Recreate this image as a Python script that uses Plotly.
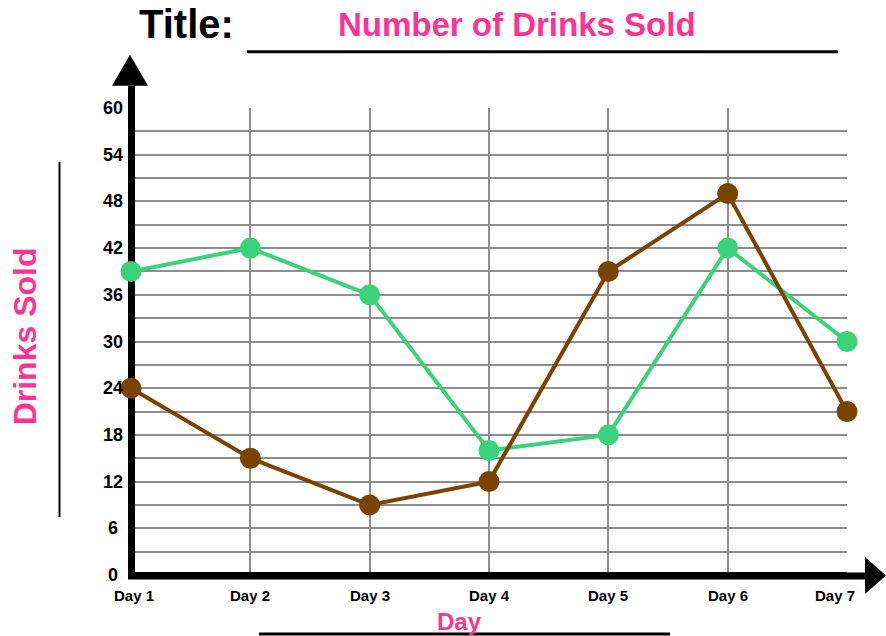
import plotly.graph_objects as go

days = ["Day 1", "Day 2", "Day 3", "Day 4", "Day 5", "Day 6", "Day 7"]
green_vals = [39, 42, 36, 16, 18, 42, 30]
brown_vals = [24, 15, 9, 12, 39, 49, 21]
y_ticks = [0, 6, 12, 18, 24, 30, 36, 42, 48, 54, 60]

W, H = 886, 636
L, R, T, B = 131, 847, 108.3, 575


def px(x):
    return (x - L) / (R - L)


def py(y):
    return (B - y) / (B - T)


FONT = "Liberation Sans, Arial, Helvetica, sans-serif"
PINK = "#ff3392"
GREEN = "#3ad27a"
BROWN = "#7a4300"
GRID = "#8e8e8e"

xs = list(range(len(days)))

fig = go.Figure()
fig.add_trace(go.Scatter(x=xs, y=green_vals, mode="lines+markers",
                         line=dict(color=GREEN, width=4),
                         marker=dict(size=21, color=GREEN),
                         cliponaxis=False, showlegend=False, hoverinfo="skip"))
fig.add_trace(go.Scatter(x=xs, y=brown_vals, mode="lines+markers",
                         line=dict(color=BROWN, width=4),
                         marker=dict(size=21, color=BROWN),
                         cliponaxis=False, showlegend=False, hoverinfo="skip"))

shapes = []
# axis extensions (outside plot area)
shapes.append(dict(type="line", xref="paper", yref="paper",
                   x0=px(131.5), x1=px(131.5), y0=py(579), y1=py(86),
                   line=dict(color="black", width=7), layer="between"))
shapes.append(dict(type="line", xref="paper", yref="paper",
                   x0=px(128), x1=px(866), y0=py(576), y1=py(576),
                   line=dict(color="black", width=7), layer="between"))
# arrow heads
shapes.append(dict(type="path", xref="paper", yref="paper",
                   path=f"M {px(112)},{py(86)} L {px(148)},{py(86)} L {px(130)},{py(55)} Z",
                   fillcolor="black", line=dict(color="black", width=0)))
shapes.append(dict(type="path", xref="paper", yref="paper",
                   path=f"M {px(865)},{py(557)} L {px(865)},{py(594)} L {px(886)},{py(575.5)} Z",
                   fillcolor="black", line=dict(color="black", width=0)))
# title underline
shapes.append(dict(type="line", xref="paper", yref="paper",
                   x0=px(247), x1=px(838), y0=py(52), y1=py(52),
                   line=dict(color="black", width=3)))
# y title line
shapes.append(dict(type="line", xref="paper", yref="paper",
                   x0=px(59.5), x1=px(59.5), y0=py(162), y1=py(517),
                   line=dict(color="black", width=2)))
# x title line
shapes.append(dict(type="line", xref="paper", yref="paper",
                   x0=px(259), x1=px(670), y0=py(634), y1=py(634),
                   line=dict(color="black", width=3)))

annotations = []
annotations.append(dict(text="Title:", x=px(186.5), y=py(24), xref="paper", yref="paper",
                        showarrow=False, xanchor="center", yanchor="middle",
                        font=dict(family=FONT, size=40, color="black", weight=700)))
annotations.append(dict(text="Number of Drinks Sold", x=px(517), y=py(25), xref="paper", yref="paper",
                        showarrow=False, xanchor="center", yanchor="middle",
                        font=dict(family=FONT, size=33, color=PINK, weight=700)))
annotations.append(dict(text="Drinks Sold", x=px(24.5), y=py(337), xref="paper", yref="paper",
                        showarrow=False, xanchor="center", yanchor="middle", textangle=-90,
                        font=dict(family=FONT, size=32, color=PINK, weight=700)))
annotations.append(dict(text="Day", x=px(459), y=py(621), xref="paper", yref="paper",
                        showarrow=False, xanchor="center", yanchor="middle",
                        font=dict(family=FONT, size=24, color=PINK, weight=700)))
for v in y_ticks:
    annotations.append(dict(text=str(v), x=px(112.5), y=v, xref="paper", yref="y",
                            showarrow=False, xanchor="center", yanchor="middle",
                            font=dict(family=FONT, size=18, color="black", weight=700)))
for i, d in enumerate(days):
    shift = 3 if i == 0 else (-12 if i == len(days) - 1 else 0)
    annotations.append(dict(text=d, x=i, y=py(595), xref="x", yref="paper",
                            showarrow=False, xanchor="center", yanchor="middle", xshift=shift,
                            font=dict(family=FONT, size=15, color="black", weight=700)))

fig.update_layout(
    width=W, height=H,
    margin=dict(l=L, r=W - R, t=T, b=H - B, pad=0),
    paper_bgcolor="white", plot_bgcolor="white",
    shapes=shapes, annotations=annotations,
    xaxis=dict(range=[0, len(days) - 1], tickvals=xs, showticklabels=False,
               showgrid=True, gridcolor=GRID, gridwidth=2,
               zeroline=True, zerolinecolor="black", zerolinewidth=7,
               showline=False, ticks="", fixedrange=True),
    yaxis=dict(range=[0, 60], dtick=3, tick0=0, showticklabels=False,
               showgrid=True, gridcolor=GRID, gridwidth=2,
               zeroline=True, zerolinecolor="black", zerolinewidth=7,
               showline=False, ticks="", fixedrange=True),
    showlegend=False,
)

fig.write_html("out.html", config={"displayModeBar": False},
               post_script="document.body.style.margin='0';document.body.style.padding='0';document.body.style.overflow='hidden';")
